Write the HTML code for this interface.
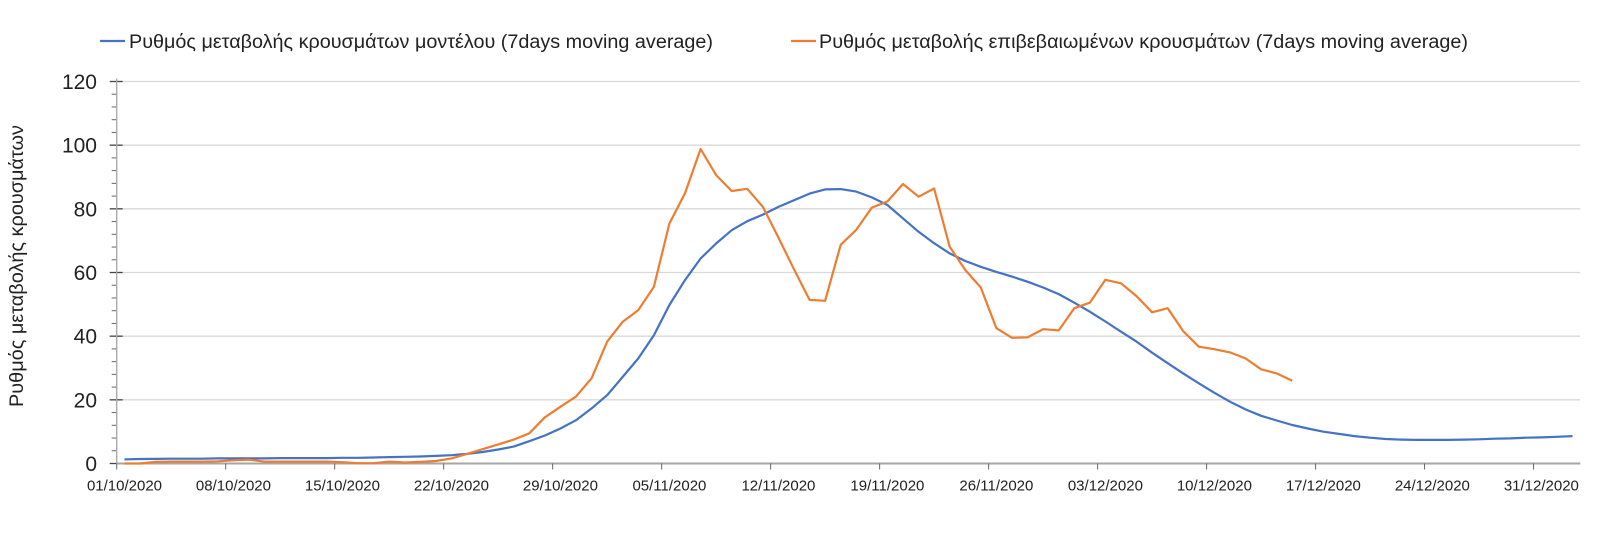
<!DOCTYPE html>
<html><head><meta charset="utf-8"><style>
html,body{margin:0;padding:0;background:#fff;}
svg{display:block;font-family:"Liberation Sans",sans-serif;}
</style></head><body>
<svg id="chart" width="1622" height="554" viewBox="0 0 1622 554" xmlns="http://www.w3.org/2000/svg">
<g id="legend">
 <g>
  <line x1="100" y1="41" x2="125" y2="41" stroke="#4472C4" stroke-width="2.2"/>
  <text x="129" y="48" font-size="19" textLength="584" lengthAdjust="spacingAndGlyphs" fill="#222">Ρυθμός μεταβολής κρουσμάτων μοντέλου (7days moving average)</text>
 </g>
 <g>
  <line x1="791" y1="41" x2="816" y2="41" stroke="#ED7D31" stroke-width="2.2"/>
  <text x="819" y="48" font-size="19" textLength="649" lengthAdjust="spacingAndGlyphs" fill="#222">Ρυθμός μεταβολής επιβεβαιωμένων κρουσμάτων (7days moving average)</text>
 </g>
</g>
<text x="0" y="0" font-size="19" fill="#222" text-anchor="middle" textLength="282" lengthAdjust="spacingAndGlyphs" transform="translate(23,266) rotate(-90)">Ρυθμός μεταβολής κρουσμάτων</text>
<g id="grid"></g>
<g id="axes"></g>
<g id="series"></g>
</svg>
<script>
const categoriesStart = [2020, 10, 1];
const categoryCount = 94;
const yTicks = [0, 20, 40, 60, 80, 100, 120];
const modelValues = [1.3,1.4,1.45,1.5,1.5,1.5,1.6,1.6,1.6,1.6,1.7,1.7,1.7,1.7,1.8,1.8,1.9,2.0,2.1,2.2,2.4,2.6,3.0,3.6,4.4,5.3,7,8.8,11,13.6,17.3,21.5,27.2,33,40.3,49.8,57.6,64.4,69.1,73.3,76.1,78.2,80.6,82.7,84.8,86.1,86.2,85.4,83.6,81.2,77,72.8,69.2,66,63.6,61.8,60.2,58.7,57.1,55.3,53.2,50.5,47.7,44.6,41.4,38.3,34.8,31.5,28.3,25.2,22.2,19.4,17.0,15.0,13.5,12.1,11,10,9.3,8.6,8.1,7.7,7.5,7.4,7.4,7.4,7.5,7.6,7.8,7.9,8.1,8.2,8.4,8.6];
const confirmedValues = [0,0,0.5,0.6,0.6,0.6,0.7,1.0,1.2,0.6,0.6,0.6,0.6,0.6,0.4,0.1,0.1,0.6,0.3,0.5,0.8,1.6,3,4.5,6,7.5,9.5,14.5,17.8,21,26.8,38.3,44.5,48.2,55.5,75.4,84.9,98.8,90.6,85.6,86.3,80.6,71,61,51.4,51.1,68.7,73.4,80.4,82.3,87.8,83.8,86.4,68.1,60.8,55.3,42.5,39.5,39.6,42.2,41.8,48.8,50.5,57.7,56.6,52.6,47.5,48.8,41.6,36.7,35.9,34.9,33.0,29.6,28.3,26.0];

const NS = "http://www.w3.org/2000/svg";
const X0 = 116.7, STEP = 15.57, Y0 = 463.5, YMAX = 120, YTOP = 81.5;
const RIGHT = X0 + STEP * categoryCount;
function xPos(i){ return X0 + (i + 0.5) * STEP; }
function yPos(v){ return Y0 - (v / YMAX) * (Y0 - YTOP); }
function mk(tag, attrs, parent){ const e = document.createElementNS(NS, tag); for (const k in attrs) e.setAttribute(k, attrs[k]); parent.appendChild(e); return e; }
function pad(n){ return (n < 10 ? "0" : "") + n; }
function dateLabel(i){ const d = new Date(categoriesStart[0], categoriesStart[1] - 1, categoriesStart[2] + i); return pad(d.getDate()) + "/" + pad(d.getMonth() + 1) + "/" + d.getFullYear(); }

const grid = document.getElementById("grid");
const axes = document.getElementById("axes");
yTicks.forEach(v => {
  const y = yPos(v);
  if (v > 0) {
    const g = mk("line", {x1: X0, x2: RIGHT, y1: y, y2: y, stroke: "#d9d9d9", "stroke-width": 1.3}, grid);
    
    
  }
  const t = mk("line", {x1: X0 - 7, x2: X0 + 6, y1: y, y2: y, stroke: "#444", "stroke-width": 1.3}, axes);
  
  
  const lb = mk("text", {x: 97, y: y + 7.5, "font-size": 21, "text-anchor": "end", fill: "#222"}, axes);
  lb.textContent = v;
  
  
});
for (let v = 4; v < YMAX; v += 4) {
  if (v % 20 === 0) continue;
  const y = yPos(v);
  const m = mk("line", {x1: X0 - 5, x2: X0, y1: y, y2: y, stroke: "#666", "stroke-width": 1}, axes);
  
  
}
const ya = mk("line", {x1: X0, x2: X0, y1: YTOP - 3, y2: Y0, stroke: "#a6a6a6", "stroke-width": 1.3}, axes);


const xa = mk("line", {x1: X0, x2: RIGHT, y1: Y0, y2: Y0, stroke: "#a6a6a6", "stroke-width": 2}, axes);


for (let i = 0; i < categoryCount; i += 7) {
  const tx = X0 + i * STEP;
  const tk = mk("line", {x1: tx, x2: tx, y1: Y0, y2: Y0 + 6, stroke: "#666", "stroke-width": 1}, axes);
  
  
  const lb = mk("text", {x: xPos(i), y: Y0 + 27, "font-size": 15, "text-anchor": "middle", fill: "#222"}, axes);
  lb.textContent = dateLabel(i);
  
  
}
const series = document.getElementById("series");
function drawLine(vals, color, name){
  const pts = vals.map((v, i) => xPos(i).toFixed(1) + "," + yPos(v).toFixed(1)).join(" ");
  const p = mk("polyline", {points: pts, fill: "none", stroke: color, "stroke-width": 2.2, "stroke-linejoin": "round"}, series);
  
  
}
drawLine(modelValues, "#4472C4", "model-rate-line");
drawLine(confirmedValues, "#ED7D31", "confirmed-rate-line");
</script>
</body></html>
